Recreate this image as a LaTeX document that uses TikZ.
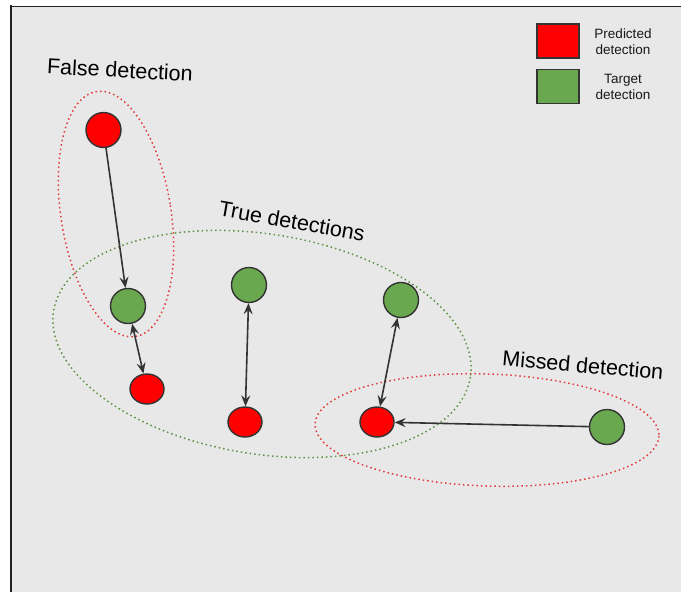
\documentclass[tikz,border=0pt]{standalone}
\usepackage{fontspec}
\setmainfont{Liberation Sans}
\usetikzlibrary{arrows.meta,shapes.geometric}
\definecolor{panelgray}{HTML}{E8E8E8}
\definecolor{predred}{HTML}{FF0000}
\definecolor{targetgreen}{HTML}{6AA84F}
\definecolor{outline}{HTML}{333333}
\definecolor{hullred}{HTML}{E23B3B}
\definecolor{hullgreen}{HTML}{5E9244}
\definecolor{frameline}{HTML}{222222}

\begin{document}
\begin{tikzpicture}[x=1pt,y=-1pt,
  pred/.style={ellipse, draw=outline, line width=1.4pt, fill=predred,
    minimum width=34pt, minimum height=30pt, inner sep=0pt},
  predround/.style={circle, draw=outline, line width=1.4pt, fill=predred,
    minimum size=35pt, inner sep=0pt},
  target/.style={circle, draw=outline, line width=1.4pt, fill=targetgreen,
    minimum size=35pt, inner sep=0pt},
  link/.style={draw=outline, line width=1.6pt},
  tip/.tip={Stealth[length=11pt, width=9pt, inset=4pt]},
  hull/.style={line width=1.5pt, dash pattern=on 1.5pt off 3pt},
  groupname/.style={font=\fontsize{21.5}{25}\selectfont, text=black},
  keybox/.style={draw=outline, line width=1.8pt, minimum width=42pt,
    minimum height=34pt, inner sep=0pt},
  keytext/.style={font=\fontsize{13.5}{16}\selectfont, align=center, text=black!90}
]
\useasboundingbox (0,0) rectangle (681,592);
\fill[white] (0,0) rectangle (681,592);
\fill[panelgray] (11,6) rectangle (681,592);
\draw[frameline, line width=1pt] (11,6) -- (681,6);
\draw[frameline, line width=2.2pt] (11,5) -- (11,592);

% group outlines
\draw[hull, hullred, rotate around={9:(116,214)}] (116,214) ellipse [x radius=55, y radius=124];
\draw[hull, hullgreen, rotate around={-9:(262,344)}] (262,344) ellipse [x radius=211, y radius=110];
\draw[hull, hullred, rotate around={-2:(487,430)}] (487,430) ellipse [x radius=172, y radius=56];

% detections
\node[predround] (p1) at (103.5,130) {};
\node[target] (t1) at (128,306) {};
\node[pred] (p2) at (147,389) {};
\node[target] (t2) at (249,285) {};
\node[pred] (p3) at (245,422) {};
\node[target] (t3) at (401,300) {};
\node[pred] (p4) at (377,422) {};
\node[target] (t4) at (607,427) {};

% matches
\draw[link, -tip] (p1) -- (t1);
\draw[link, tip-tip] (t1) -- (p2);
\draw[link, tip-tip] (t2) -- (p3);
\draw[link, tip-tip] (t3) -- (p4);
\draw[link, -tip] (t4) -- (p4);

% group labels
\node[groupname, rotate=-3] (lfalse) at (120,70) {False detection};
\node[groupname, rotate=-10] (ltrue) at (292,221) {True detections};
\node[groupname, rotate=-5] (lmissed) at (583,365) {Missed detection};

% legend
\node[keybox, fill=predred] (kpred) at (558,41) {};
\node[keybox, fill=targetgreen] (ktarget) at (558,86.5) {};
\node[keytext] (kpredtext) at (623,42) {Predicted\\detection};
\node[keytext] (ktargettext) at (623,87) {Target\\detection};
\end{tikzpicture}
\end{document}
